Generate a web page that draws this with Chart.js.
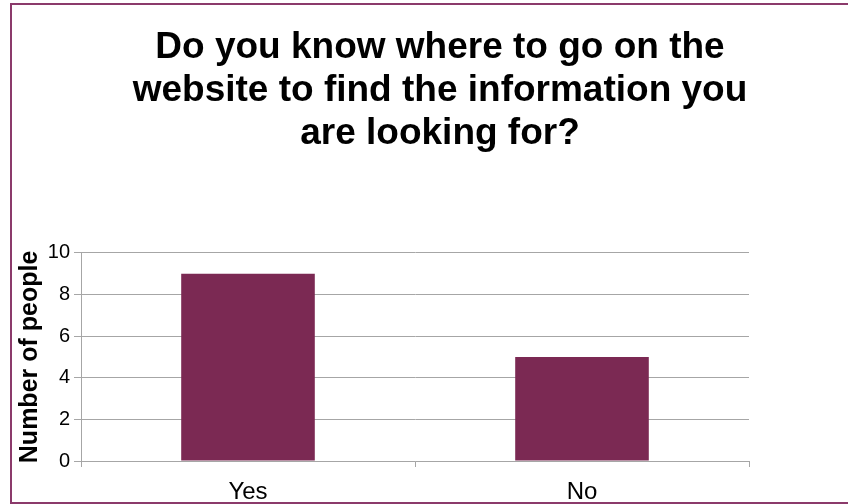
<!DOCTYPE html>
<html>
<head>
<meta charset="utf-8">
<script src="https://cdn.jsdelivr.net/npm/chart.js@4"></script>
<style>
  html, body { margin: 0; padding: 0; background: #fff; width: 848px; height: 504px; overflow: hidden; }
  #chart { position: absolute; left: 0; top: 0; }
  #frame { position: absolute; left: 10px; top: 3px; width: 900px; height: 501px; box-sizing: border-box;
           border: 2px solid #8b3a6b; pointer-events: none; }
</style>
</head>
<body>
<canvas id="chart" width="880" height="504"></canvas>
<div id="frame"></div>
<script>
const categories = ['Yes', 'No'];
const peopleCounts = [9, 5];
const titleLines = [
  'Do you know where to go on the',
  'website to find the information you',
  'are looking for?'
];
const yMin = 0;
const yMax = 10;
const yStep = 2;

const FONT = "'Liberation Sans', Arial, sans-serif";
const GRID = '#a6a6a6';

const ctx = document.getElementById('chart').getContext('2d');
new Chart(ctx, {
  type: 'bar',
  data: {
    labels: categories,
    datasets: [{
      label: 'Number of people',
      data: peopleCounts,
      backgroundColor: '#7b2953',
      barPercentage: 0.4,
      categoryPercentage: 1.0
    }]
  },
  options: {
    responsive: false,
    animation: false,
    devicePixelRatio: 1,
    layout: { padding: { left: 0, right: 0, top: 3, bottom: 0 } },
    plugins: {
      legend: { display: false },
      tooltip: { enabled: false },
      title: {
        display: true,
        text: titleLines,
        color: '#000',
        font: { family: FONT, size: 37, weight: 'bold', lineHeight: 1.17 },
        padding: { top: 23, bottom: 97 }
      }
    },
    scales: {
      x: {
        offset: true,
        grid: { offset: true, drawOnChartArea: false, tickLength: 6, color: GRID },
        border: { color: GRID },
        ticks: { color: '#000', font: { family: FONT, size: 24 }, padding: 11 },
        afterFit: s => { s.height = 43; }
      },
      y: {
        min: yMin,
        max: yMax,
        ticks: { stepSize: yStep, color: '#000', font: { family: FONT, size: 20 }, padding: 4 },
        grid: { color: GRID, tickLength: 7 },
        border: { color: GRID },
        title: {
          display: true,
          text: 'Number of people',
          color: '#000',
          font: { family: FONT, size: 25, weight: 'bold' },
          padding: { top: 15, bottom: 0 }
        },
        afterFit: s => { s.width = 81; }
      },
      spacer: {
        type: 'linear',
        position: 'right',
        ticks: { display: false },
        grid: { display: false },
        border: { display: false },
        afterFit: s => { s.width = 131; }
      }
    }
  }
});
</script>
</body>
</html>
